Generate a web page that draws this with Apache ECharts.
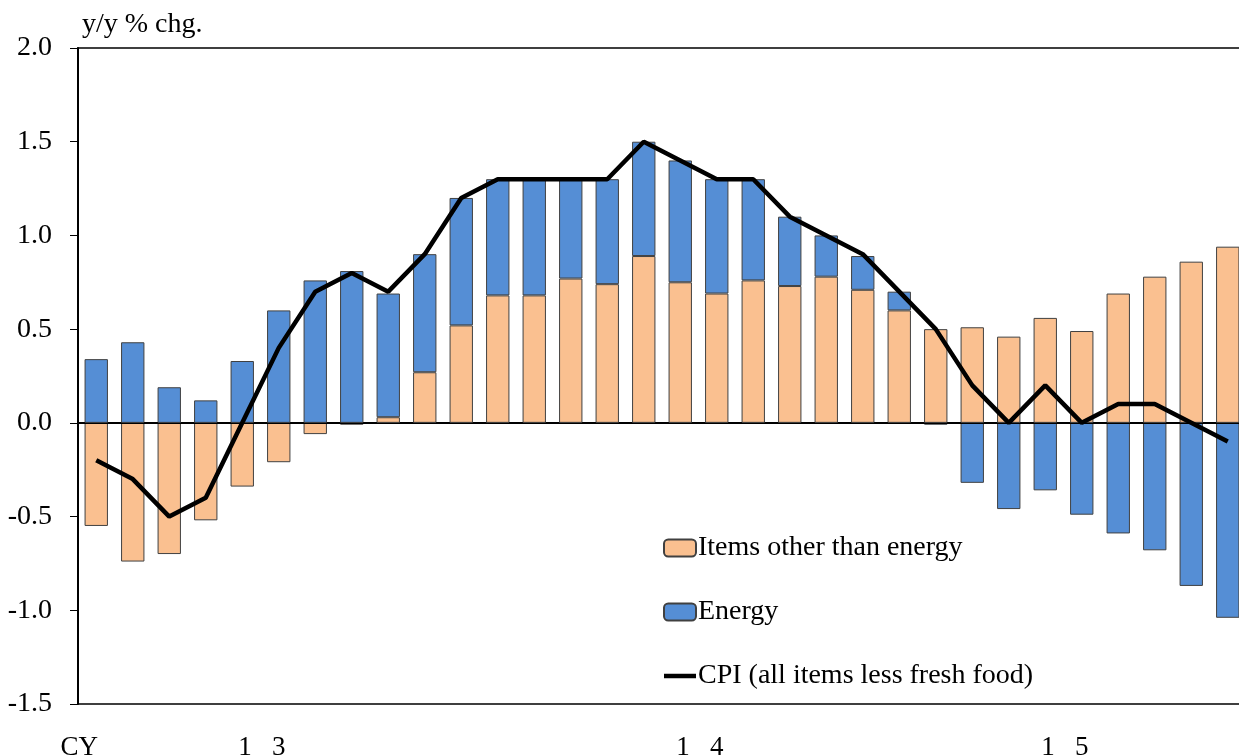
<!DOCTYPE html>
<html>
<head>
<meta charset="utf-8">
<script src="https://cdn.jsdelivr.net/npm/echarts@6/dist/echarts.min.js"></script>
<style>
    html, body { margin: 0; padding: 0; background: #fff; }
    #chart01 { width: 1239px; height: 756px; }
</style>
</head>
<body>
<div id="chart01"></div>
<script>
// months CY2013/1 - CY2015/8
var months = [
    '13/1', '13/2', '13/3', '13/4', '13/5', '13/6', '13/7', '13/8', '13/9', '13/10', '13/11', '13/12',
    '14/1', '14/2', '14/3', '14/4', '14/5', '14/6', '14/7', '14/8', '14/9', '14/10', '14/11', '14/12',
    '15/1', '15/2', '15/3', '15/4', '15/5', '15/6', '15/7', '15/8'
];
var otherItems = [
    -0.55, -0.74, -0.70, -0.52, -0.34, -0.21, -0.06, -0.01, 0.03, 0.27, 0.52, 0.68,
    0.68, 0.77, 0.74, 0.89, 0.75, 0.69, 0.76, 0.73, 0.78, 0.71, 0.60, 0.50,
    0.51, 0.46, 0.56, 0.49, 0.69, 0.78, 0.86, 0.94
];
var energy = [
    0.34, 0.43, 0.19, 0.12, 0.33, 0.60, 0.76, 0.81, 0.66, 0.63, 0.68, 0.62,
    0.62, 0.53, 0.56, 0.61, 0.65, 0.61, 0.54, 0.37, 0.22, 0.18, 0.10, -0.01,
    -0.32, -0.46, -0.36, -0.49, -0.59, -0.68, -0.87, -1.04
];
var cpi = [
    -0.2, -0.3, -0.5, -0.4, 0.0, 0.4, 0.7, 0.8, 0.7, 0.9, 1.2, 1.3,
    1.3, 1.3, 1.3, 1.5, 1.4, 1.3, 1.3, 1.1, 1.0, 0.9, 0.7, 0.5,
    0.2, 0.0, 0.2, 0.0, 0.1, 0.1, 0.0, -0.1
];
var yearLabels = ['CY', '1   3', '1   4', '1   5'];
var yearLabelIndex = [0, 5, 17, 27];

function chart01(id) {
    var myChart = echarts.init(document.getElementById(id));
    var font = 'Liberation Serif';
    option = {
        animation: false,
        grid: {
            left: 78,
            width: 1168,
            top: 48,
            bottom: 52,
            outerBoundsMode: 'none',
            show: true,
            borderColor: '#000',
            borderWidth: 1.5
        },
        legend: {
            orient: 'vertical',
            left: 663,
            top: 534,
            padding: 0,
            itemWidth: 32,
            itemHeight: 17,
            itemGap: 36,
            textStyle: {
                color: '#000',
                fontFamily: font,
                fontSize: 28,
                lineHeight: 17,
                padding: [0, 0, 0, -3]
            },
            data: [
                { name: 'Items other than energy' },
                { name: 'Energy' },
                {
                    name: 'CPI (all items less fresh food)',
                    icon: 'path://M0,0 L32,0 L32,4.5 L0,4.5 Z'
                }
            ]
        },
        xAxis: {
            type: 'category',
            data: months,
            boundaryGap: true,
            axisLine: { lineStyle: { color: '#000', width: 2 } },
            axisTick: {
                length: 6,
                lineStyle: { color: '#000', width: 1 },
                interval: function (index) {
                    return index % 12 === 0;
                }
            },
            axisLabel: {
                margin: 30,
                color: '#000',
                fontFamily: font,
                fontSize: 27,
                padding: [0, 34, 0, 0],
                interval: function (index) {
                    return yearLabelIndex.indexOf(index) >= 0;
                },
                formatter: function (value, index) {
                    var k = yearLabelIndex.indexOf(index);
                    return k >= 0 ? yearLabels[k] : '';
                }
            },
            splitLine: { show: false }
        },
        yAxis: {
            type: 'value',
            min: -1.5,
            max: 2.0,
            interval: 0.5,
            name: 'y/y % chg.',
            nameLocation: 'end',
            nameGap: 9,
            nameTextStyle: {
                color: '#000',
                fontFamily: font,
                fontSize: 28,
                align: 'left',
                padding: [0, 0, 0, 4]
            },
            axisLine: { show: true, lineStyle: { color: '#000', width: 2 } },
            axisTick: { show: true, length: 8, lineStyle: { color: '#000', width: 1 } },
            axisLabel: {
                margin: 26,
                color: '#000',
                fontFamily: font,
                fontSize: 28,
                formatter: function (v) {
                    return v.toFixed(1);
                }
            },
            splitLine: { show: false }
        },
        series: [
            {
                name: 'Items other than energy',
                type: 'bar',
                stack: 'cpi',
                barCategoryGap: '36%',
                itemStyle: {
                    color: '#FAC090',
                    borderColor: '#404040',
                    borderWidth: 1
                },
                data: otherItems
            },
            {
                name: 'Energy',
                type: 'bar',
                stack: 'cpi',
                barCategoryGap: '36%',
                itemStyle: {
                    color: '#558ED5',
                    borderColor: '#404040',
                    borderWidth: 1
                },
                markLine: {
                    silent: true,
                    symbol: 'none',
                    label: { show: false },
                    lineStyle: { color: '#000', width: 1, type: 'solid' },
                    data: [{ yAxis: 0 }]
                },
                data: energy
            },
            {
                name: 'CPI (all items less fresh food)',
                type: 'line',
                symbol: 'none',
                z: 5,
                lineStyle: { color: '#000', width: 4.5 },
                itemStyle: { color: '#000' },
                data: cpi
            }
        ]
    };
    myChart.setOption(option);
    return myChart;
}

var chartInit01 = chart01('chart01');
window.addEventListener('resize', function () {
    chartInit01.resize();
});
</script>
</body>
</html>
